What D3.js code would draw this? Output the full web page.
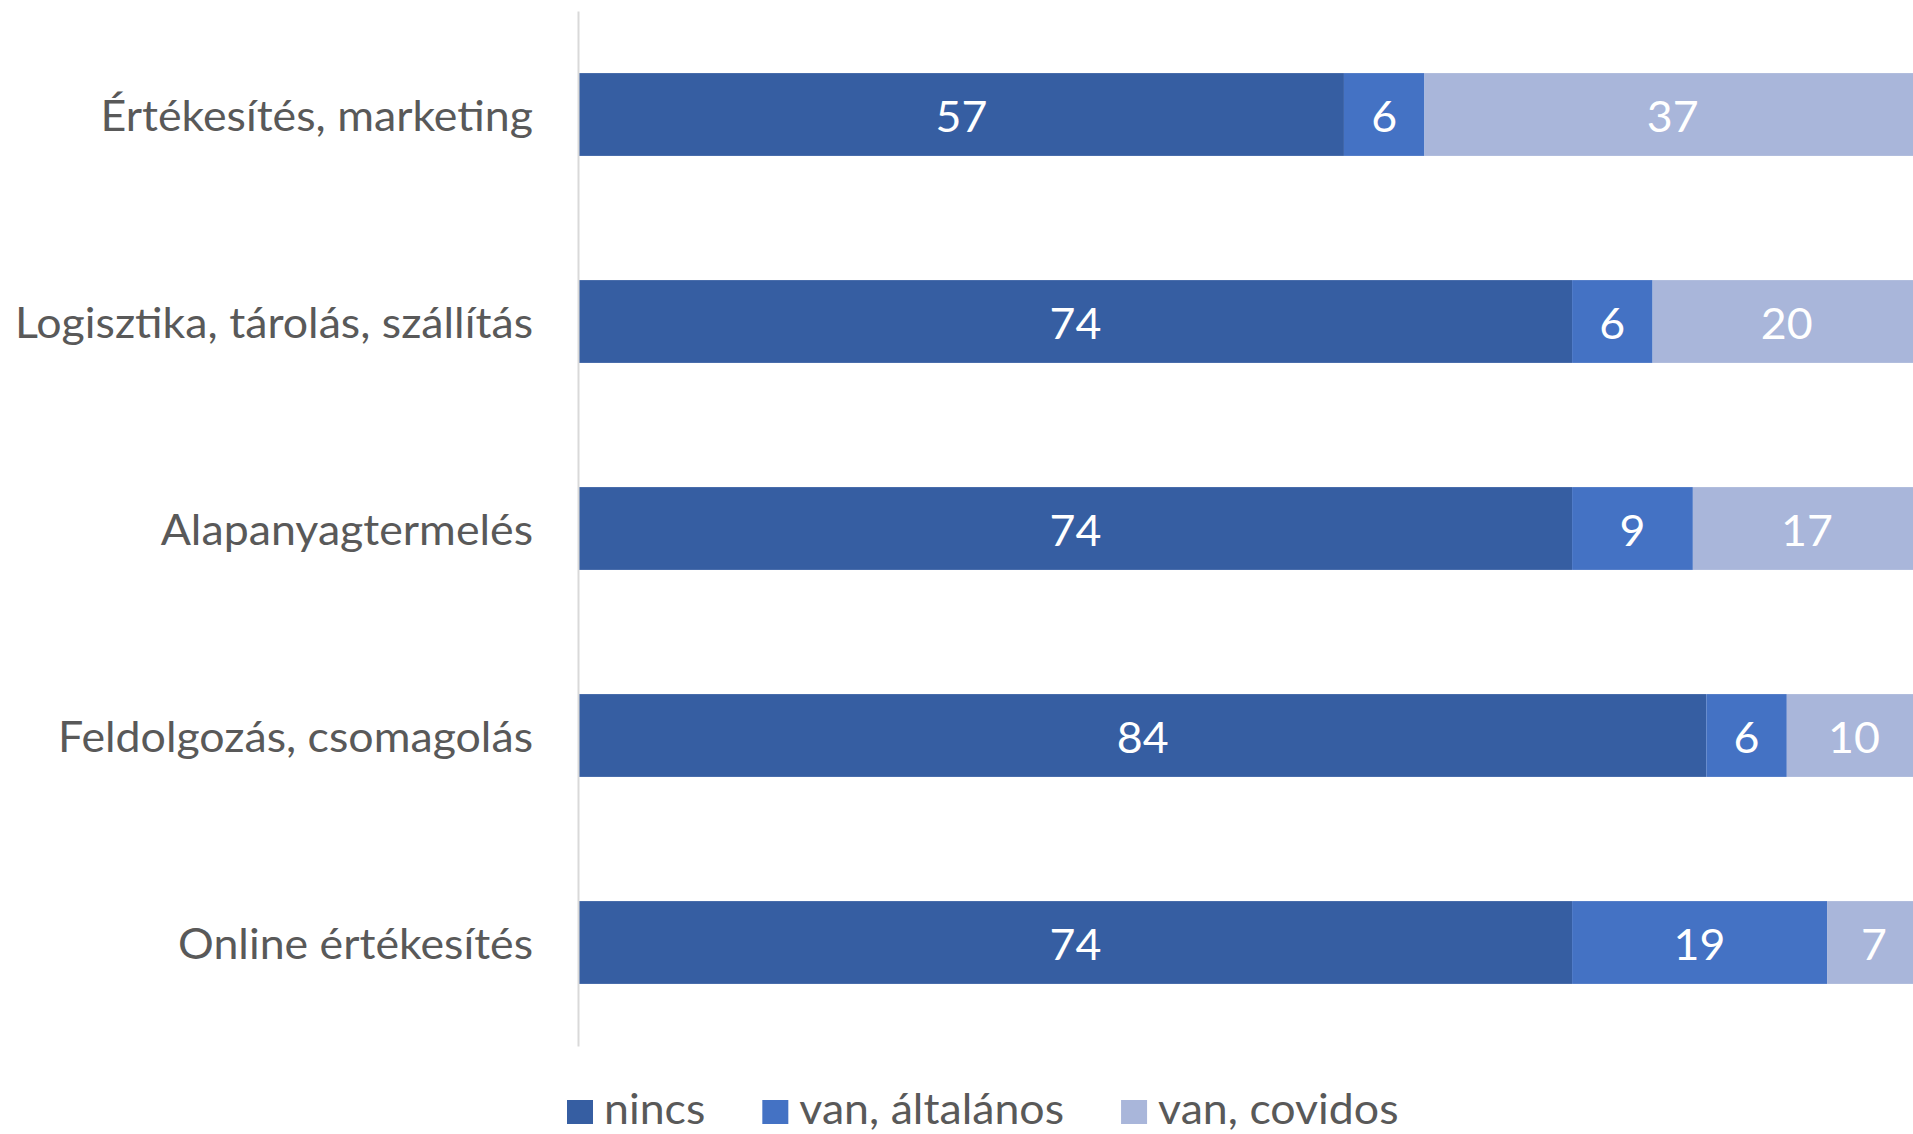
<!DOCTYPE html>
<html>
<head>
<meta charset="utf-8">
<script src="https://cdn.jsdelivr.net/npm/d3@7"></script>
<style>
  html, body { margin: 0; padding: 0; background: #ffffff; overflow: hidden; }
  svg { display: block; }
</style>
</head>
<body>
<svg id="chart" width="1913" height="1134"></svg>
<script>
const categories = ["Értékesítés, marketing", "Logisztika, tárolás, szállítás", "Alapanyagtermelés", "Feldolgozás, csomagolás", "Online értékesítés"];
const seriesNames = ["nincs", "van, általános", "van, covidos"];
const nincs = [57, 74, 74, 84, 74];
const vanAltalanos = [6, 6, 9, 6, 19];
const vanCovidos = [37, 20, 17, 10, 7];
const colors = ["#365EA2", "#4472C4", "#A9B6DA"];

const rows = categories.map((c, i) => ({cat: c, "nincs": nincs[i], "van, általános": vanAltalanos[i], "van, covidos": vanCovidos[i]}));
const stack = d3.stack().keys(seriesNames)(rows);

const svg = d3.select("#chart");
const FONT = "Lato, 'Open Sans', sans-serif";
const FS = 43;

const x = d3.scaleLinear().domain([0, 100]).range([579, 1921]);
const y = d3.scaleBand().domain(categories).range([11, 1046]).paddingInner(0.6).paddingOuter(0.3);
const color = d3.scaleOrdinal().domain(seriesNames).range(colors);

// bars
const layers = svg.append("g").selectAll("g").data(stack).join("g").attr("fill", d => color(d.key));
layers.selectAll("rect").data(d => d.map(v => ({v, key: d.key}))).join("rect")
  .attr("x", d => x(d.v[0]))
  .attr("width", d => x(d.v[1]) - x(d.v[0]))
  .attr("y", d => y(d.v.data.cat))
  .attr("height", y.bandwidth());

// category axis
const yAxis = d3.axisLeft(y).tickSize(0).tickPadding(45);
const ag = svg.append("g").attr("transform", "translate(578,0)").call(yAxis);
ag.select(".domain").attr("stroke", "#d9d9d9").attr("stroke-width", 2);
ag.selectAll(".tick text")
  .attr("fill", "#595959")
  .attr("font-family", FONT)
  .attr("font-size", FS)
  .attr("dy", "0.38em");

// value labels
layers.selectAll("text").data(d => d.map(v => ({v, key: d.key}))).join("text")
  .attr("class", "vlab")
  .attr("x", d => (x(d.v[0]) + x(d.v[1])) / 2)
  .attr("y", d => y(d.v.data.cat) + y.bandwidth() / 2)
  .attr("dy", "0.4em")
  .attr("text-anchor", "middle")
  .attr("fill", "#ffffff")
  .attr("font-family", FONT)
  .attr("font-size", FS)
  .text(d => d.v[1] - d.v[0]);

// legend
const lg = svg.append("g");
const items = seriesNames.map((s, i) => {
  const r = lg.append("rect").attr("y", 1100).attr("width", 26).attr("height", 24).attr("fill", colors[i]);
  const t = lg.append("text").attr("y", 1124)
    .attr("fill", "#595959").attr("font-family", FONT).attr("font-size", FS).text(s);
  return {r, t};
});

// horizontal condensing to approximate a narrower face
const ref = ag.selectAll(".tick text").filter(d => d === "Logisztika, tárolás, szállítás").node();
const k = 518 / ref.getComputedTextLength();
svg.selectAll("text").each(function() {
  const w = this.getComputedTextLength();
  d3.select(this).attr("data-w", w * k).attr("textLength", w * k).attr("lengthAdjust", "spacingAndGlyphs");
});

let lx = 567;
items.forEach(({r, t}, i) => {
  r.attr("x", lx);
  t.attr("x", lx + 37);
  lx = lx + 37 + (+t.attr("data-w")) + 57;
});
</script>
</body>
</html>
